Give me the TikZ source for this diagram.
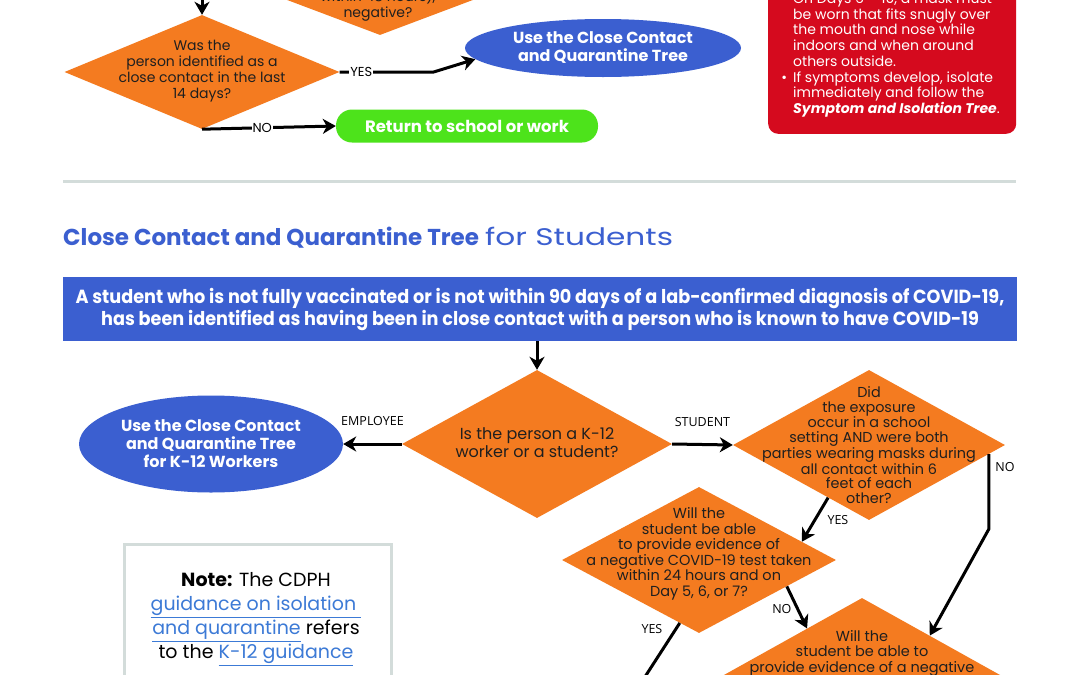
\documentclass[tikz,border=0pt]{standalone}
\usepackage{fontspec}
\setmainfont{Poppins}
\newfontfamily\lblfont{Open Sans}
\newfontfamily\bannerfont[FakeStretch=0.93]{Poppins}
\newfontfamily\widefont[FakeStretch=1.3]{Poppins}
\usetikzlibrary{shapes.geometric,arrows.meta,calc}

\definecolor{treeorange}{HTML}{F47B20}
\definecolor{treeblue}{HTML}{3B5FD0}
\definecolor{treegreen}{HTML}{4DE31B}
\definecolor{treered}{HTML}{D50A1E}
\definecolor{rulegray}{HTML}{D3DCDA}
\definecolor{linkblue}{HTML}{3C7AD6}

\newcommand\weblink[1]{{\color{linkblue}\underline{#1}}}

\tikzset{
  decision/.style={diamond, fill=treeorange, inner sep=0pt},
  qtext/.style={align=center, inner sep=0pt, text=black!88,
    font=\fontsize{14}{16}\selectfont},
  ovalbox/.style={ellipse, fill=treeblue, text=white, align=center, inner sep=0pt,
    font=\bfseries\fontsize{16}{18}\selectfont},
  endbox/.style={rectangle, rounded corners=16pt, fill=treegreen, text=white,
    font=\bfseries\fontsize{16.5}{18}\selectfont},
  flow/.style={line width=3pt, -{Stealth[length=13pt,width=15pt,inset=4pt]}},
  lbl/.style={font=\lblfont\fontsize{12.5}{14}\selectfont, inner sep=1pt},
  toplbl/.style={font=\fontsize{13}{15}\selectfont, inner sep=1pt, fill=white}
}

\begin{document}
\begin{tikzpicture}[x=1pt,y=-1pt]
\useasboundingbox (0,0) rectangle (1080,675);
\clip (0,0) rectangle (1080,675);
\fill[white] (0,0) rectangle (1080,675);

% --- end of the upper tree
\node[decision, minimum width=292pt, minimum height=110pt] (neg) at (380,-20) {};
\node[qtext] (negt) at (378,5) {within 48 hours),\\negative?};

\coordinate (wasin) at (202,-10);
\node[decision, minimum width=275pt, minimum height=114pt] (was) at (202,72) {};
\node[qtext] (wast) at (202,71) {Was the\\person identified as a\\close contact in the last\\14 days?};
\draw[flow] (wasin) -- (was.north);

\node[ovalbox, minimum width=276pt, minimum height=58pt] (useA) at (603,48)
  {Use the Close Contact\\and Quarantine Tree};
\node[endbox, minimum width=262pt, minimum height=33pt] (back) at (467,126)
  {Return to school or work};

\draw[flow] (was.east) -- node[toplbl, pos=0.23]{YES} ++(94,0) -- (useA.185);
\draw[flow] (was.south) -- node[toplbl, pos=0.45]{NO} (back.west);

% red reminder box
\node[fill=treered, rounded corners=10pt, anchor=south west,
  minimum width=248pt, minimum height=180pt] (keep) at (768,134) {};
\node[anchor=north west, align=left, inner sep=0pt, text=white,
  font=\fontsize{14}{15.7}\selectfont] (keept) at (793,-7)
  {\llap{\textbullet\hspace{6pt}}On Days 6 -- 10, a mask must\\
   be worn that fits snugly over\\
   the mouth and nose while\\
   indoors and when around\\
   others outside.\\
   \llap{\textbullet\hspace{6pt}}If symptoms develop, isolate\\
   immediately and follow the\\
   \textbf{\textit{Symptom and Isolation Tree}}.};

\draw[rulegray, line width=3pt] (63,181) -- (1016,181);

% --- students tree
\node[anchor=base west, inner sep=0pt, text=treeblue,
  font=\fontsize{23}{26}\selectfont] (title) at (63,245)
  {\textbf{Close Contact and Quarantine Tree} {\widefont\fontsize{24}{26}\selectfont for Students}};

\node[fill=treeblue, text=white, align=center, minimum width=954pt, minimum height=64pt,
  font=\bannerfont\bfseries\fontsize{19}{22}\selectfont] (start) at (540,309)
  {A student who is not fully vaccinated or is not within 90 days of a lab-confirmed diagnosis of COVID-19,\\
   has been identified as having been in close contact with a person who is known to have COVID-19};

\node[decision, minimum width=270pt, minimum height=148pt] (k12) at (537,444) {};
\node[qtext, font=\fontsize{16}{18}\selectfont] (k12t) at (537,443)
  {Is the person a K-12\\worker or a student?};
\draw[flow] (k12.north |- start.south) -- (k12.north);

\node[ovalbox, minimum width=264pt, minimum height=97pt] (useB) at (211,444)
  {Use the Close Contact\\and Quarantine Tree\\for K-12 Workers};
\draw[flow] (k12.west) -- node[lbl, above=16pt]{EMPLOYEE} (useB.east);

\node[decision, minimum width=272pt, minimum height=150pt] (did) at (869,445) {};
\node[qtext, font=\fontsize{14.4}{14.7}\selectfont] (didt) at (869,445)
  {Did\\the exposure\\occur in a school\\setting AND were both\\parties wearing masks during\\all contact within 6\\feet of each\\other?};
\draw[flow] (k12.east) -- node[lbl, above=15pt]{STUDENT} (did.west);

\node[decision, minimum width=274pt, minimum height=146pt] (test) at (699,560) {};
\node[qtext, font=\fontsize{14.5}{15.5}\selectfont] (testt) at (699,554)
  {Will the\\student be able\\to provide evidence of\\a negative COVID-19 test taken\\within 24 hours and on\\Day 5, 6, or 7?};

\node[decision, minimum width=366pt, minimum height=204pt] (final) at (862,700) {};
\node[qtext, font=\fontsize{14.5}{15.5}\selectfont] (finalt) at (862,653)
  {Will the\\student be able to\\provide evidence of a negative};

\coordinate (yesout) at (630,700);
\draw[flow] ($(did.south)!0.3!(did.west)$) -- node[lbl, right=10pt, pos=0.5]{YES} ($(test.north)!0.75!(test.east)$);
\draw[flow] ($(test.east)!0.36!(test.south)$) -- node[lbl, left=4pt, pos=0.55]{NO} ($(final.north)!0.3!(final.west)$);
\draw[flow] ($(did.east)!0.12!(did.south)$) -- node[lbl, right=4pt, pos=0.17]{NO} ++(0,75)
  -- ($(final.north)!0.37!(final.east)$);
\draw[flow] ($(test.south)!0.14!(test.west)$) -- node[lbl, left=11pt, pos=0.08]{YES} (yesout);

% note box
\node[draw=rulegray, line width=3pt, anchor=north west,
  minimum width=267pt, minimum height=200pt] (note) at (123,543) {};
\node[align=center, inner sep=0pt, font=\fontsize{19}{24}\selectfont] (notet) at (256,619)
  {\textbf{Note:} The CDPH\\\weblink{guidance on isolation }\\\weblink{and quarantine} refers\\to the \weblink{K-12 guidance}};
\end{tikzpicture}
\end{document}
